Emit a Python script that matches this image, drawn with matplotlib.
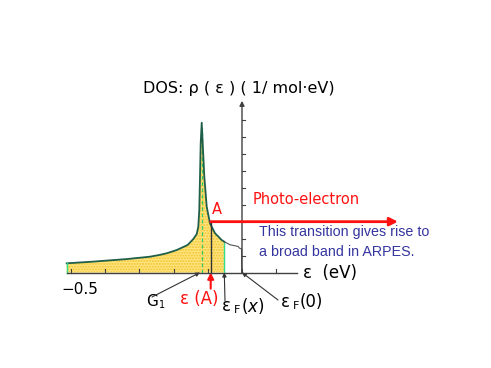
import numpy as np
import matplotlib.pyplot as plt

# === DATA (energy in eV, DOS in arbitrary units) ===
energy = [-0.5126, -0.4348, -0.3371, -0.2690, -0.2398, -0.2202, -0.1909, -0.159,
          -0.1424, -0.1325, -0.1278, -0.1249, -0.1228, -0.1208, -0.1178,
          -0.1149, -0.1102, -0.1032, -0.0936, -0.0789, -0.0594, -0.0518]
dos = [0.54, 0.64, 0.79, 0.93, 1.04, 1.13, 1.32, 1.62,
       1.97, 2.26, 2.69, 3.68, 5.64, 7.6, 8.81,
       7.6, 5.64, 3.87, 2.89, 2.31, 1.91, 1.81]
tail_energy = [-0.0518, -0.035, -0.020, -0.011, -0.008, -0.001, -0.001]
tail_dos = [1.81, 1.63, 1.57, 1.53, 1.44, 1.38, 0.0]
x_ticks = [-0.5, -0.4, -0.3, -0.2, -0.1, 0.0, 0.1]
y_ticks = [1, 2, 3, 4, 5, 6, 7, 8, 9]
e_peak = -0.1178  # G1
e_A = -0.0915     # epsilon(A)
dos_A = 2.99
e_Fx = -0.0518    # epsilon_F(x)
e_F0 = 0.0        # epsilon_F(0)

# === FIGURE / SCALES ===
W, H = 491, 368
X0, Y0 = 242, 272.5      # pixel position of origin
SX, SY = 342.0, 17.0     # pixels per eV, pixels per DOS unit

fig = plt.figure(figsize=(W / 100, H / 100), dpi=100)
ax = fig.add_axes([0, 0, 1, 1])
ax.set_xlim(-X0 / SX, (W - X0) / SX)
ax.set_ylim(-(H - Y0) / SY, Y0 / SY)
ax.axis('off')


def px(x, y):
    # image pixel -> data coords (for labels)
    return (x - X0) / SX, (Y0 - y) / SY


# === CURVE + FILL ===
e = np.array(energy)
d = np.array(dos)
ax.fill_between(e, 0, d, facecolor='#ffe680', edgecolor='#f2c230', hatch='......',
                linewidth=0, zorder=1)
ax.plot(e, d, color='#1f5f4a', lw=1.3, zorder=3, solid_joinstyle='round')
ax.plot(tail_energy, tail_dos, color='#555555', lw=0.8, zorder=3)
ax.plot([e[0], e[0]], [0, d[0]], color='#33dd88', lw=1, zorder=3)
ax.plot([e_peak, e_peak], [0, 8.5], color='#33cc66', lw=0.9, ls=(0, (3, 2)), zorder=2)
ax.plot([e_Fx, e_Fx], [0, d[-1]], color='#33dd88', lw=1, zorder=2)
ax.plot([e_A, e_A], [0, dos_A], color='#333333', lw=1, zorder=3)

# === AXES ===
ax.plot([e[0], 0.161], [0, 0], color='#404040', lw=1, zorder=4)
for t in x_ticks:
    ax.plot([t, t], [0, 0.2], color='#404040', lw=0.8, zorder=4)
ax.annotate('', xy=(0, 10.1), xytext=(0, 0),
            arrowprops=dict(arrowstyle='-|>', color='#404040', lw=1,
                            mutation_scale=7, shrinkA=0, shrinkB=0), zorder=4)
for t in y_ticks:
    ax.plot([0, 0.009], [t, t], color='#404040', lw=0.8, zorder=4)

# photo-electron arrow
ax.annotate('', xy=(0.456, dos_A), xytext=(e_A, dos_A),
            arrowprops=dict(arrowstyle='-|>', color='#ff1010', lw=2,
                            mutation_scale=12, shrinkA=0, shrinkB=0), zorder=5)

# === LABELS ===
ax.text(*px(239, 88), 'DOS: ρ ( ε ) ( 1/ mol·eV)', fontsize=11.5, ha='center', va='center')
ax.text(*px(253, 200), 'Photo-electron', fontsize=10.5, color='#ff1010', ha='left', va='center')
ax.text(*px(212, 209), 'A', fontsize=10.5, color='#ff1010', ha='left', va='center')
ax.text(*px(259, 232), 'This transition gives rise to', fontsize=10.3, color='#3535a0',
        family='Liberation Sans', ha='left', va='center')
ax.text(*px(259, 252), 'a broad band in ARPES.', fontsize=10.3, color='#3535a0',
        family='Liberation Sans', ha='left', va='center')
ax.text(*px(303, 273), 'ε  (eV)', fontsize=12, ha='left', va='center')
ax.text(*px(61, 290), '−0.5', fontsize=11, ha='left', va='center')
ax.text(*px(146, 301), 'G', fontsize=11, ha='left', va='center')
ax.text(*px(159, 305), '1', fontsize=7, ha='left', va='center')
ax.text(*px(180, 299), 'ε (A)', fontsize=12, color='#ff1010', ha='left', va='center')
ax.text(*px(222, 306), 'ε', fontsize=12, ha='left', va='center')
ax.text(*px(234, 310), 'F', fontsize=8, ha='left', va='center')
ax.text(*px(241, 306), '($x$)', fontsize=12, ha='left', va='center')
ax.text(*px(281, 302), 'ε', fontsize=12, ha='left', va='center')
ax.text(*px(293, 306), 'F', fontsize=8, ha='left', va='center')
ax.text(*px(300, 302), '(0)', fontsize=12, ha='left', va='center')

# === POINTER ARROWS ===
ptr = dict(arrowstyle='-|>', color='#333333', lw=0.8, mutation_scale=6, shrinkA=0, shrinkB=0)
ax.annotate('', xy=(e_peak - 0.005, 0), xytext=px(152, 297), arrowprops=ptr)
ax.annotate('', xy=(e_Fx, 0), xytext=px(225, 301), arrowprops=ptr)
ax.annotate('', xy=(e_F0, 0), xytext=px(278, 300), arrowprops=ptr)
ax.annotate('', xy=(e_A, 0), xytext=(e_A, -0.95),
            arrowprops=dict(arrowstyle='-|>', color='#ff1010', lw=1.5,
                            mutation_scale=9, shrinkA=0, shrinkB=0))

fig.savefig('out.png', dpi=100)
